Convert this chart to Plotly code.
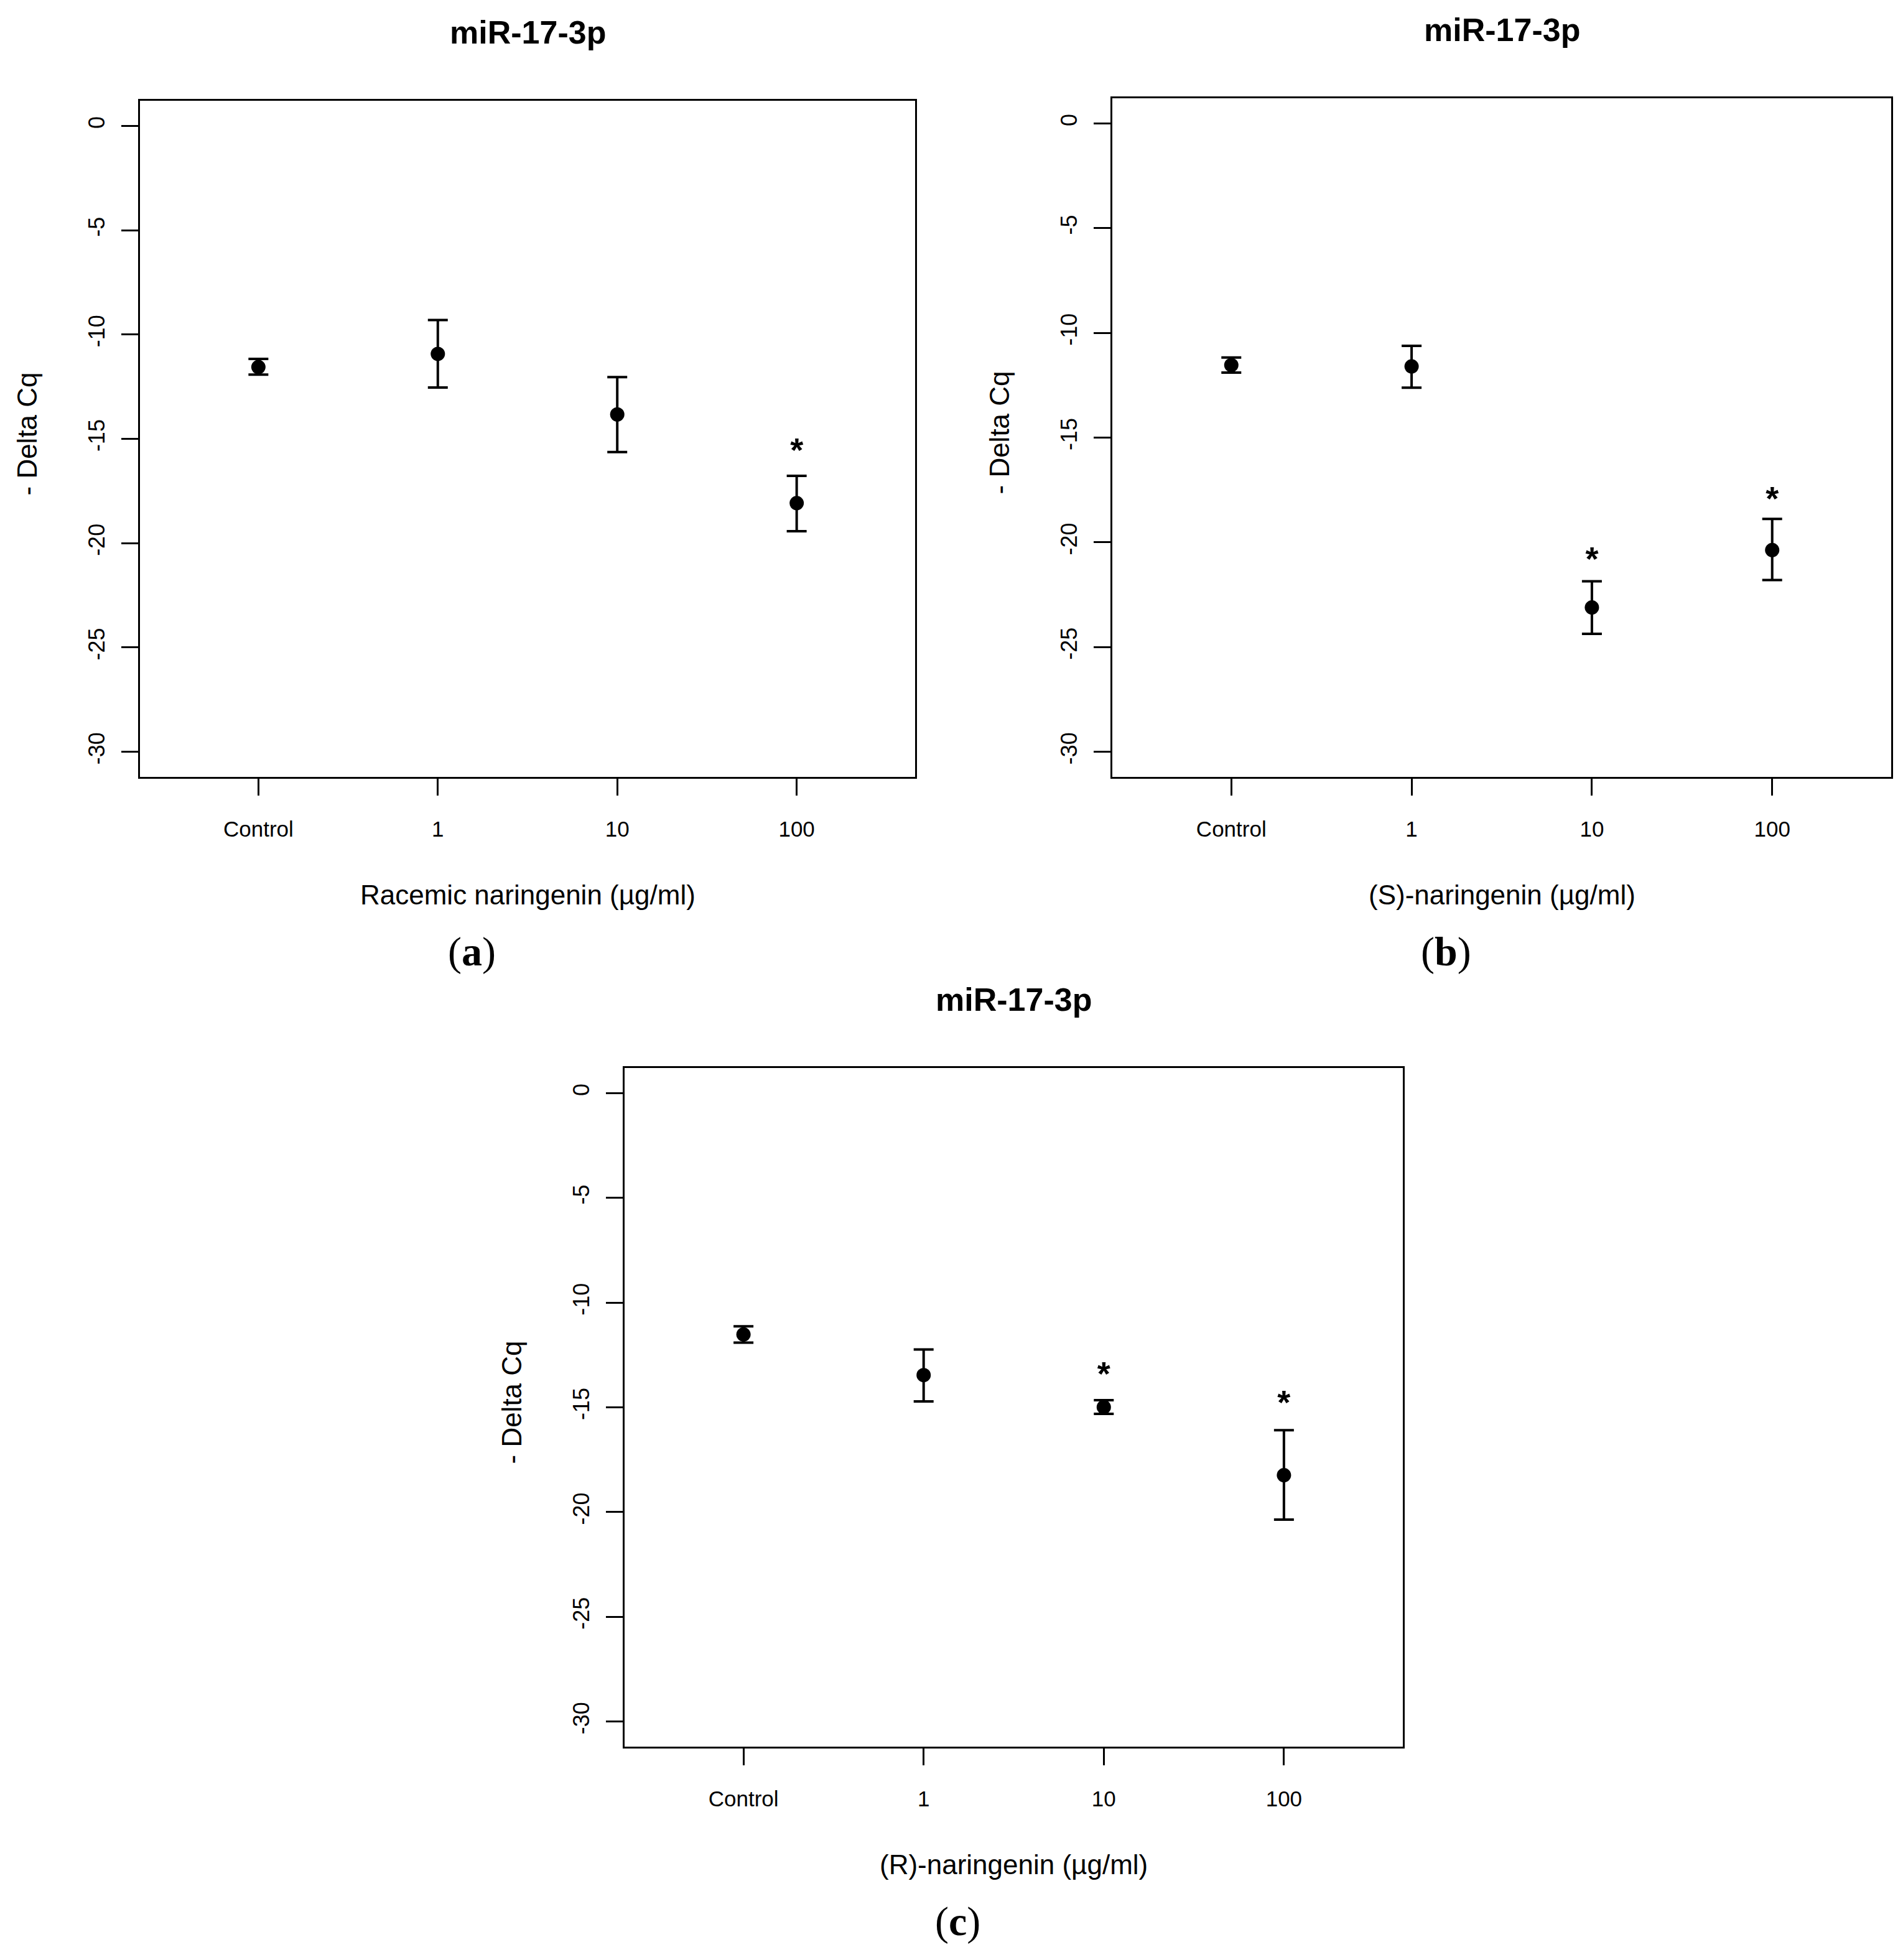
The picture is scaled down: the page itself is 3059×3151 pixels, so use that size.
import plotly.graph_objects as go

# ---------------- data ----------------
categories = ["Control", "1", "10", "100"]
cat_pos = [1, 2, 3, 4]
ytick_vals = [0, -5, -10, -15, -20, -25, -30]
ytick_text = ["0", "-5", "-10", "-15", "-20", "-25", "-30"]

title_text = "miR-17-3p"
ylabel_text = "- Delta Cq"

# panel (a) racemic
a_mean = [-11.56, -10.93, -13.83, -18.08]
a_upper = [-11.17, -9.31, -12.04, -16.77]
a_lower = [-11.92, -12.54, -15.63, -19.43]
a_star_x = [4]
a_star_y = [-15.7]
a_xlabel = "Racemic naringenin (µg/ml)"

# panel (b) S
b_mean = [-11.54, -11.60, -23.11, -20.37]
b_upper = [-11.18, -10.62, -21.86, -18.88]
b_lower = [-11.90, -12.62, -24.37, -21.80]
b_star_x = [3, 4]
b_star_y = [-20.95, -18.05]
b_xlabel = "(S)-naringenin (µg/ml)"

# panel (c) R
c_mean = [-11.52, -13.46, -14.99, -18.24]
c_upper = [-11.13, -12.24, -14.66, -16.09]
c_lower = [-11.91, -14.72, -15.31, -20.36]
c_star_x = [3, 4]
c_star_y = [-13.55, -14.9]
c_xlabel = "(R)-naringenin (µg/ml)"

panel_letters = ["a", "b", "c"]

# ---------------- layout geometry (page pixels) ----------------
PAGE_W, PAGE_H = 3059, 3151
BODY = 8  # default body margin of the html page
W, H = PAGE_W - 2 * BODY, PAGE_H - 2 * BODY
# (left, right, top, bottom) of plotting boxes, page coordinates
boxes = [
    (225, 1471, 162, 1249),
    (1788, 3040, 158, 1249),
    (1004, 2255, 1717, 2808),
]


def fx(px):
    return (px - BODY) / W


def fy(py):
    return 1 - (py - BODY) / H


SANS = "Liberation Sans, Arial, sans-serif"
SERIF = "Liberation Serif, Times New Roman, serif"

fig = go.Figure()

panels = [
    (a_mean, a_upper, a_lower, a_star_x, a_star_y, a_xlabel),
    (b_mean, b_upper, b_lower, b_star_x, b_star_y, b_xlabel),
    (c_mean, c_upper, c_lower, c_star_x, c_star_y, c_xlabel),
]

annotations = []
for i, (mean, up, lo, sx, sy, xl) in enumerate(panels):
    ax = "" if i == 0 else str(i + 1)
    xref, yref = "x" + ax, "y" + ax
    plus = [u - m for u, m in zip(up, mean)]
    minus = [m - l for m, l in zip(mean, lo)]
    fig.add_trace(go.Scatter(
        x=cat_pos, y=mean, mode="markers", xaxis=xref, yaxis=yref,
        marker=dict(size=23, color="black"),
        error_y=dict(type="data", symmetric=False, array=plus, arrayminus=minus,
                     color="black", thickness=4, width=16),
        showlegend=False,
    ))
    fig.add_trace(go.Scatter(
        x=sx, y=sy, mode="text", text=["<b>*</b>"] * len(sx), xaxis=xref, yaxis=yref,
        textposition="middle center",
        textfont=dict(family=SANS, size=54, color="black"),
        showlegend=False,
    ))
    l, r, t, b = boxes[i]
    fig.update_layout(**{
        "xaxis" + ax: dict(
            domain=[fx(l), fx(r)], range=[0.34, 4.66], tickvals=cat_pos, ticktext=categories,
            showline=True, linecolor="black", linewidth=2.5, mirror=True,
            ticks="outside", ticklen=27, tickwidth=2.5, tickcolor="black",
            showgrid=False, zeroline=False, ticklabelstandoff=24,
            tickfont=dict(family=SANS, size=35, color="black"),
            anchor=yref, fixedrange=True,
        ),
        "yaxis" + ax: dict(
            domain=[fy(b), fy(t)], range=[-31.2, 1.2], tickvals=ytick_vals, ticktext=ytick_text,
            showline=True, linecolor="black", linewidth=2.5, mirror=True,
            ticks="outside", ticklen=27, tickwidth=2.5, tickcolor="black",
            showgrid=False, zeroline=False, tickangle=-90, ticklabelstandoff=13,
            tickfont=dict(family=SANS, size=36, color="black"),
            anchor=xref, fixedrange=True,
        ),
    })
    cx = (l + r) / 2
    # title
    annotations.append(dict(
        text="<b>" + title_text + "</b>", x=fx(cx), y=fy(t - 110),
        xref="paper", yref="paper", showarrow=False, xanchor="center", yanchor="middle",
        font=dict(family=SANS, size=52, color="black"),
    ))
    # x label
    annotations.append(dict(
        text=xl, x=fx(cx), y=fy(b + 189),
        xref="paper", yref="paper", showarrow=False, xanchor="center", yanchor="middle",
        font=dict(family=SANS, size=44, color="black"),
    ))
    # y label
    annotations.append(dict(
        text=ylabel_text, x=fx(l - 182), y=fy((t + b) / 2 - 8), textangle=-90,
        xref="paper", yref="paper", showarrow=False, xanchor="center", yanchor="middle",
        font=dict(family=SANS, size=44, color="black"),
    ))
    # panel letter
    annotations.append(dict(
        text="(<b>" + panel_letters[i] + "</b>)", x=fx(cx - 90), y=fy(b + 281),
        xref="paper", yref="paper", showarrow=False, xanchor="center", yanchor="middle",
        font=dict(family=SERIF, size=66, color="black"),
    ))

fig.update_layout(
    width=W, height=H, margin=dict(l=0, r=0, t=0, b=0),
    paper_bgcolor="white", plot_bgcolor="white",
    annotations=annotations, showlegend=False,
)

fig.write_html("out.html")
